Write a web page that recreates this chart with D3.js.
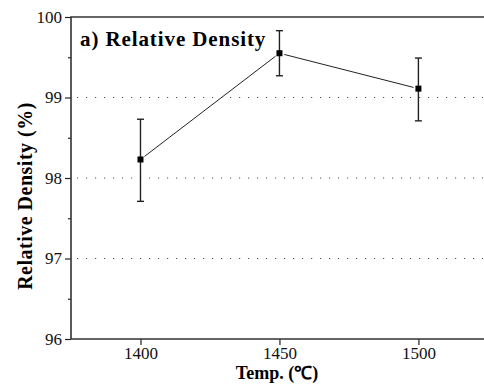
<!DOCTYPE html>
<html>
<head>
<meta charset="utf-8">
<script src="https://cdn.jsdelivr.net/npm/d3@7"></script>
<style>
  body { margin: 0; background: #fff; }
</style>
</head>
<body>
<div id="chart"></div>
<script>
// data
const temps = [1400, 1450, 1500];
const density = [98.23, 99.55, 99.11];
const errLow = [97.71, 99.27, 98.71];
const errHigh = [98.73, 99.83, 99.49];
const xTicks = [1400, 1450, 1500];
const yTicks = [96, 97, 98, 99, 100];
const gridValues = [97, 98, 99];

const serif = '"Liberation Serif", "Times New Roman", Times, serif';

const width = 484;
const height = 386;
const margin = { top: 17, right: 0, bottom: 47, left: 71 };

const svg = d3.select('#chart')
  .append('svg')
  .attr('width', width)
  .attr('height', height);

const x = d3.scaleLinear()
  .domain([1375, 1523.6])
  .range([margin.left, width - margin.right]);

const y = d3.scaleLinear()
  .domain([96, 100])
  .range([height - margin.bottom, margin.top]);

// dotted grid
svg.append('g')
  .selectAll('line')
  .data(gridValues)
  .enter()
  .append('line')
  .attr('x1', margin.left + 6)
  .attr('x2', width)
  .attr('y1', d => y(d))
  .attr('y2', d => y(d))
  .attr('stroke', '#555')
  .attr('stroke-width', 1)
  .attr('stroke-dasharray', '1.2,7.8');

// axes
const yAxis = d3.axisLeft(y).tickValues(yTicks).tickSize(6).tickPadding(3).tickFormat(d3.format('d'));
const yMinor = d3.axisLeft(y).tickValues([96.5, 97.5, 98.5, 99.5]).tickSize(3).tickFormat('');
const xAxis = d3.axisBottom(x).tickValues(xTicks).tickSize(6).tickPadding(2).tickFormat(d3.format('d'));

svg.append('g')
  .attr('transform', `translate(${margin.left},0)`)
  .call(yAxis);
svg.append('g')
  .attr('transform', `translate(${margin.left},0)`)
  .call(yMinor);
svg.append('g')
  .attr('transform', `translate(0,${height - margin.bottom})`)
  .call(xAxis);

svg.selectAll('.domain').remove();
svg.selectAll('.tick line').attr('stroke', '#222').attr('stroke-width', 1.2);
svg.selectAll('.tick text')
  .style('font-family', serif)
  .style('font-size', '17px')
  .attr('fill', '#111');

// frame: left, top, bottom
svg.append('path')
  .attr('d', `M${width},${y(100)}H${margin.left}V${y(96)}H${width}`)
  .attr('fill', 'none')
  .attr('stroke', '#333')
  .attr('stroke-width', 1.6);

// connecting line, with a small gap at each marker
const pts = temps.map((t, i) => [x(t), y(density[i])]);
const gap = 5;
svg.append('g')
  .selectAll('line')
  .data(d3.pairs(pts))
  .enter()
  .append('line')
  .each(function ([a, b]) {
    const dx = b[0] - a[0], dy = b[1] - a[1];
    const len = Math.hypot(dx, dy);
    const ux = dx / len, uy = dy / len;
    d3.select(this)
      .attr('x1', a[0] + ux * gap).attr('y1', a[1] + uy * gap)
      .attr('x2', b[0] - ux * gap).attr('y2', b[1] - uy * gap);
  })
  .attr('stroke', '#222')
  .attr('stroke-width', 1);

// error bars
const eb = svg.append('g').attr('stroke', '#222').attr('stroke-width', 1.4);
temps.forEach((t, i) => {
  eb.append('line')
    .attr('x1', x(t)).attr('x2', x(t))
    .attr('y1', y(errLow[i])).attr('y2', y(errHigh[i]));
  [errLow[i], errHigh[i]].forEach(v => {
    eb.append('line')
      .attr('x1', x(t) - 3.5).attr('x2', x(t) + 3.5)
      .attr('y1', y(v)).attr('y2', y(v));
  });
});

// markers
svg.append('g')
  .selectAll('rect')
  .data(temps)
  .enter()
  .append('rect')
  .attr('x', d => x(d) - 3)
  .attr('y', (d, i) => y(density[i]) - 3)
  .attr('width', 6)
  .attr('height', 6)
  .attr('fill', '#000');

// labels
svg.append('text')
  .attr('x', 80)
  .attr('y', 46)
  .style('font-family', serif)
  .style('font-size', '21px')
  .style('letter-spacing', '0.9px')
  .style('font-weight', 'bold')
  .text('a) Relative Density');

svg.append('text')
  .attr('transform', 'translate(32,196) rotate(-90)')
  .attr('text-anchor', 'middle')
  .style('font-family', serif)
  .style('font-size', '20px')
  .style('letter-spacing', '0.5px')
  .style('font-weight', 'bold')
  .text('Relative Density (%)');

svg.append('text')
  .attr('x', 277)
  .attr('y', 379)
  .attr('text-anchor', 'middle')
  .style('font-family', serif)
  .style('font-size', '18px')
  .style('font-weight', 'bold')
  .text('Temp. (℃)');
</script>
</body>
</html>
